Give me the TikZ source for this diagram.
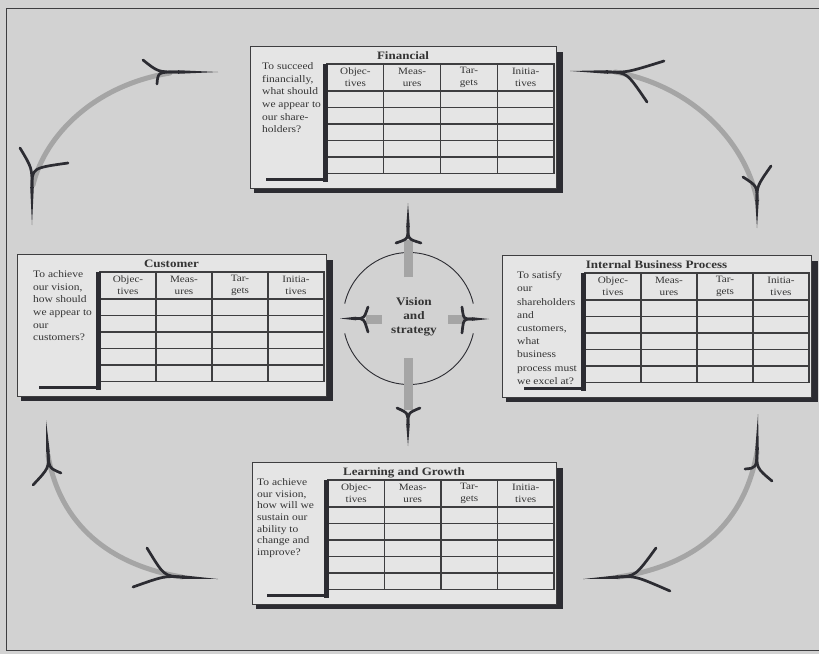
\documentclass[tikz,border=0pt]{standalone}
\usepackage{fontspec}
\setmainfont{Liberation Serif}[FakeStretch=1.15]
\usetikzlibrary{calc}

\definecolor{paper}{RGB}{210,210,210}
\definecolor{card}{RGB}{229,229,229}
\definecolor{ink}{RGB}{44,44,50}
\definecolor{rule}{RGB}{62,62,64}
\definecolor{shaft}{RGB}{165,165,165}
\definecolor{words}{RGB}{52,52,52}

\tikzset{
  panelbox/.style={draw=rule, line width=0.8pt, fill=card, inner sep=0pt, anchor=north west},
  dropshade/.style={fill=ink},
  grid/.style={draw=rule, line width=1.2pt},
  leftbar/.style={draw=ink, line width=5pt},
  underbar/.style={draw=ink, line width=3.5pt},
  paneltitle/.style={font=\fontsize{11.3}{13}\selectfont\bfseries, text=words, inner sep=0pt, anchor=base},
  colhead/.style={font=\fontsize{9.7}{12}\selectfont, text=words, align=center, inner sep=0pt},
  question/.style={text=words, align=left, inner sep=0pt, anchor=north west},
  hub/.style={circle, minimum size=132pt, inner sep=0pt},
  hubline/.style={draw=ink, line width=0.9pt},
  hubtext/.style={font=\fontsize{11.5}{14}\selectfont\bfseries, text=words, align=center, inner sep=0pt},
  cshaft/.style={draw=shaft, line width=9pt},
  arcshaft/.style={draw=shaft, line width=5pt, line cap=round},
  barb/.style={draw=ink, line width=2.7pt, line cap=round},
}

% one perspective card: name, left, top, right, table left, text x, title, question, leading
\newcommand\panel[9]{%
  \pgfmathsetmacro\pnL{#2}\pgfmathsetmacro\pnT{#3}\pgfmathsetmacro\pnR{#4}
  \pgfmathsetmacro\pnB{\pnT+142}
  \pgfmathsetmacro\pnW{\pnR-\pnL}
  \pgfmathsetmacro\pnC{(\pnL+\pnR)/2}
  \pgfmathsetmacro\tbL{#5}\pgfmathsetmacro\tbR{\pnR-2}
  \pgfmathsetmacro\tbT{\pnT+18}\pgfmathsetmacro\tbH{\pnT+45}
  \pgfmathsetmacro\tbB{\tbH+82.5}
  \pgfmathsetmacro\tbW{(\tbR-\tbL)/4}
  \pgfmathsetmacro\tbM{(\tbT+\tbH)/2}
  \fill[dropshade] (\pnL+4,\pnT+6) rectangle (\pnR+7,\pnB+5);
  \node[panelbox, minimum width=\pnW pt, minimum height=142pt] (#1) at (\pnL,\pnT) {};
  \draw[grid] (\tbL,\tbT) rectangle (\tbR,\tbB);
  \foreach \k in {1,2,3} {\draw[grid] (\tbL+\k*\tbW,\tbT) -- (\tbL+\k*\tbW,\tbB);}
  \foreach \k in {0,...,4} {\draw[grid] (\tbL,\tbH+\k*16.5) -- (\tbR,\tbH+\k*16.5);}
  \draw[leftbar] (\tbL-1.5,\tbT) -- (\tbL-1.5,\tbB+8);
  \draw[underbar] (\tbL-61,\tbB+6) -- (\tbL-1.5,\tbB+6);
  \node[colhead] (#1-obj) at (\tbL+0.5*\tbW,\tbM) {Objec-\\tives};
  \node[colhead] (#1-mea) at (\tbL+1.5*\tbW,\tbM) {Meas-\\ures};
  \node[colhead] (#1-tar) at (\tbL+2.5*\tbW,\tbM) {Tar-\\gets};
  \node[colhead] (#1-ini) at (\tbL+3.5*\tbW,\tbM) {Initia-\\tives};
  \node[paneltitle] (#1-title) at (\pnC,\pnT+13.5) {#7};
  \node[question, font=\fontsize{10}{#9}\selectfont] (#1-ask) at (#6,\pnT+16.5) {#8};
}

% flared arrow head: tip, fork point, two barb ends
\newcommand\flare[4]{%
  \coordinate (fT) at (#1);
  \coordinate (fJ) at (#2);
  \coordinate (fC) at ($(fJ)!-0.5!(fT)$);
  \fill[ink] (fT) -- ($(fJ)!1.8pt!90:(fT)$) -- ($(fJ)!1.8pt!-90:(fT)$) -- cycle;
  \draw[barb] (fJ) .. controls (fC) .. (#3);
  \draw[barb] (fJ) .. controls (fC) .. (#4);
}

\begin{document}
\begin{tikzpicture}[x=1pt, y=-1pt]
  \useasboundingbox (0,0) rectangle (819,654);
  \fill[paper] (0,0) rectangle (819,654);
  \draw[rule, line width=1pt] (830,8) -- (6,8) -- (6,650) -- (830,650);

  \panel{financial}{250}{46}{556}{327}{262}{Financial}%
    {To succeed\\financially,\\what should\\we appear to\\our share-\\holders?}{12.6}
  \panel{customer}{17}{254}{326}{100}{33}{Customer}%
    {To achieve\\our vision,\\how should\\we appear to\\our\\customers?}{12.6}
  \panel{internal}{502}{255}{811}{585}{517}{Internal Business Process}%
    {To satisfy\\our\\shareholders\\and\\customers,\\what\\business\\process must\\we excel at?}{13.2}
  \panel{learning}{252}{462}{556}{328}{257}{Learning and Growth}%
    {To achieve\\our vision,\\how will we\\sustain our\\ability to\\change and\\improve?}{11.6}

  % hub: ring broken where the side spokes leave it
  \node[hub] (ring) at (409,318.5) {};
  \draw[hubline] ([shift={(13:66)}]ring.center) arc[start angle=13, end angle=167, radius=66];
  \draw[hubline] ([shift={(193:66)}]ring.center) arc[start angle=193, end angle=347, radius=66];
  \node[hubtext] (vision) at (414,317) {Vision\\and\\strategy};

  % hub spokes
  \coordinate (upA) at (408,277);   \coordinate (upB) at (408,240);
  \coordinate (lfA) at (382,319);   \coordinate (lfB) at (366,319);
  \coordinate (rtA) at (448,319);   \coordinate (rtB) at (464,319);
  \coordinate (dnA) at (408,358);   \coordinate (dnB) at (408,410);
  \draw[cshaft] (upA) -- (upB);
  \draw[cshaft] (lfA) -- (lfB);
  \draw[cshaft] (rtA) -- (rtB);
  \draw[cshaft] (dnA) -- (dnB);
  \flare{408,203}{408,227}{396,243}{421,243}
  \flare{340,318.5}{356,318.5}{368,307}{368,332}
  \flare{489,319}{472,319}{462,307}{462,333}
  \flare{408,446}{408,424}{397,408}{420,408}

  % corner loops
  \coordinate (tlA) at (170,73);  \coordinate (tlB) at (33,185);
  \coordinate (trA) at (615,72);  \coordinate (trB) at (757,200);
  \coordinate (blA) at (48,455);  \coordinate (blB) at (182,577);
  \coordinate (brA) at (757,452); \coordinate (brB) at (618,577);
  \draw[arcshaft] (tlA) .. controls (95,85) and (45,135) .. (tlB);
  \draw[arcshaft] (trA) .. controls (690,85) and (745,140) .. (trB);
  \draw[arcshaft] (blA) .. controls (60,525) and (110,565) .. (blB);
  \draw[arcshaft] (brA) .. controls (745,520) and (700,565) .. (brB);
  \flare{218,72}{178,72}{143,60}{157,84}
  \flare{32,225}{32,187}{20,148}{68,163}
  \flare{570,71}{608,72}{664,61}{647,102}
  \flare{757,228}{757,200}{743,177}{771,166}
  \flare{46,420}{48,452}{33,485}{61,473}
  \flare{218,579}{182,577}{147,548}{133,587}
  \flare{758,414}{757,450}{745,469}{772,481}
  \flare{583,579}{618,577}{656,548}{670,591}
\end{tikzpicture}
\end{document}
